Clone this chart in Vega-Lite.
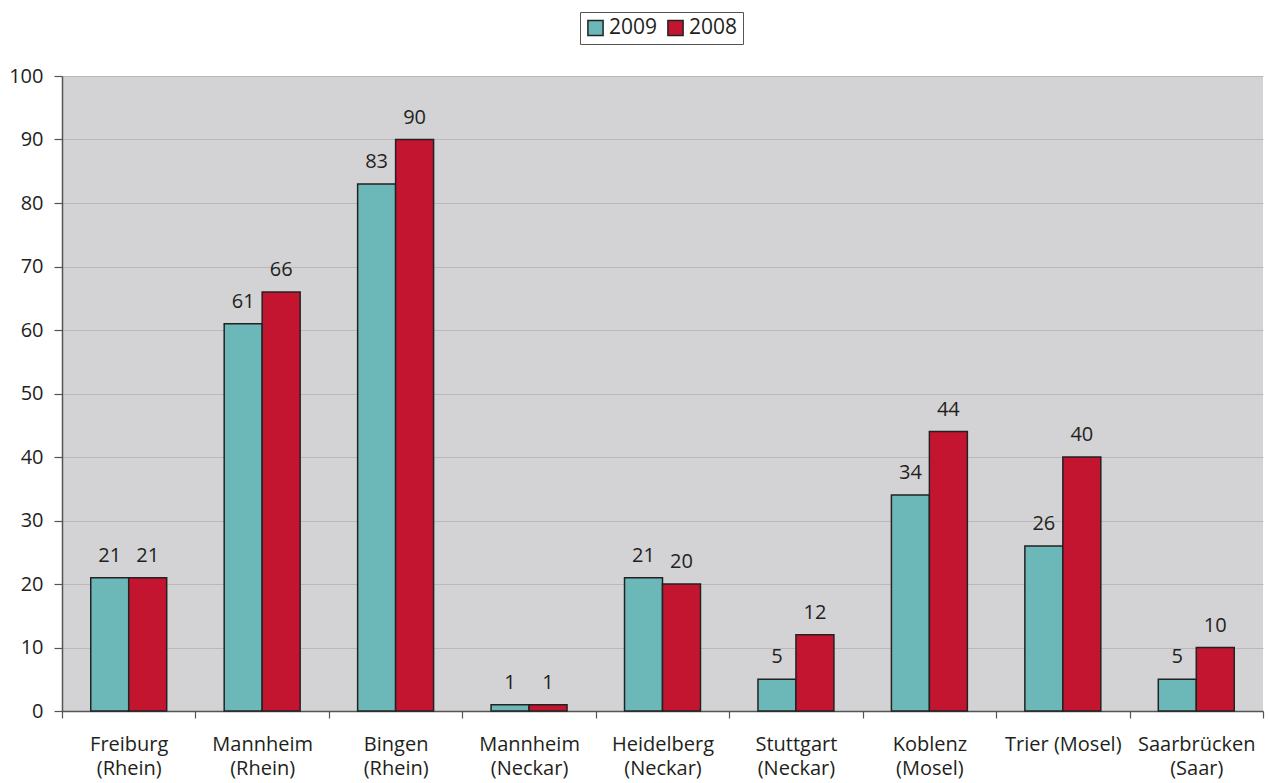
{
  "$schema": "https://vega.github.io/schema/vega-lite/v6.json",
  "width": 1201,
  "height": 635,
  "autosize": {"type": "none"},
  "padding": {"left": 62, "top": 76, "right": 6, "bottom": 72},
  "background": "white",
  "config": {
    "view": {"fill": "#d3d3d5", "stroke": null},
    "font": "Open Sans",
    "axis": {"labelFont": "Open Sans", "labelColor": "#231f20", "labelFontSize": 20, "domainColor": "#555", "tickColor": "#555", "domainWidth": 1.5, "tickWidth": 1.2}
  },
  "data": {
    "values": [
      {"city": "Freiburg|(Rhein)", "year": "2009", "value": 21},
      {"city": "Freiburg|(Rhein)", "year": "2008", "value": 21},
      {"city": "Mannheim|(Rhein)", "year": "2009", "value": 61},
      {"city": "Mannheim|(Rhein)", "year": "2008", "value": 66},
      {"city": "Bingen|(Rhein)", "year": "2009", "value": 83},
      {"city": "Bingen|(Rhein)", "year": "2008", "value": 90},
      {"city": "Mannheim|(Neckar)", "year": "2009", "value": 1},
      {"city": "Mannheim|(Neckar)", "year": "2008", "value": 1},
      {"city": "Heidelberg|(Neckar)", "year": "2009", "value": 21},
      {"city": "Heidelberg|(Neckar)", "year": "2008", "value": 20},
      {"city": "Stuttgart|(Neckar)", "year": "2009", "value": 5},
      {"city": "Stuttgart|(Neckar)", "year": "2008", "value": 12},
      {"city": "Koblenz|(Mosel)", "year": "2009", "value": 34},
      {"city": "Koblenz|(Mosel)", "year": "2008", "value": 44},
      {"city": "Trier (Mosel)", "year": "2009", "value": 26},
      {"city": "Trier (Mosel)", "year": "2008", "value": 40},
      {"city": "Saarbrücken|(Saar)", "year": "2009", "value": 5},
      {"city": "Saarbrücken|(Saar)", "year": "2008", "value": 10}
    ]
  },
  "encoding": {
    "x": {
      "field": "city",
      "type": "nominal",
      "sort": null,
      "scale": {"paddingInner": 0, "paddingOuter": 0},
      "axis": {"title": null, "labelAngle": 0, "labelExpr": "isValid(datum.value) ? split(datum.value, '|') : ''", "labelLineHeight": 24, "tickBand": "extent", "tickSize": 7, "labelPadding": 16, "domain": true, "grid": false}
    },
    "xOffset": {"field": "year", "type": "nominal", "sort": ["2009", "2008"], "scale": {"paddingInner": 0, "paddingOuter": 0.757}},
    "y": {
      "field": "value",
      "type": "quantitative",
      "scale": {"domain": [0, 100]},
      "axis": {"title": null, "values": [0, 10, 20, 30, 40, 50, 60, 70, 80, 90, 100], "tickSize": 8, "labelPadding": 11, "labelFontSize": 20, "gridColor": "#b9b9bb", "gridWidth": 1}
    }
  },
  "layer": [
    {
      "mark": {"type": "bar", "stroke": "#222222", "strokeWidth": 1.5},
      "encoding": {
        "color": {
          "field": "year",
          "type": "nominal",
          "scale": {"domain": ["2009", "2008"], "range": ["#6cb8b9", "#c41530"]},
          "legend": {
            "title": null,
            "orient": "none",
            "direction": "horizontal",
            "legendX": 518,
            "legendY": -64,
            "strokeColor": "#555",
            "padding": 5,
            "symbolType": "square",
            "symbolSize": 230,
            "symbolStrokeColor": "#222",
            "symbolStrokeWidth": 1.5,
            "labelFontSize": 21,
            "labelColor": "#231f20",
            "labelFont": "Open Sans",
            "columnPadding": 6,
            "symbolOffset": 0,
            "labelOffset": 3
          }
        }
      }
    },
    {
      "mark": {"type": "text", "baseline": "bottom", "dy": -12, "fontSize": 20, "color": "#231f20"},
      "encoding": {"text": {"field": "value", "type": "quantitative"}}
    }
  ]
}
